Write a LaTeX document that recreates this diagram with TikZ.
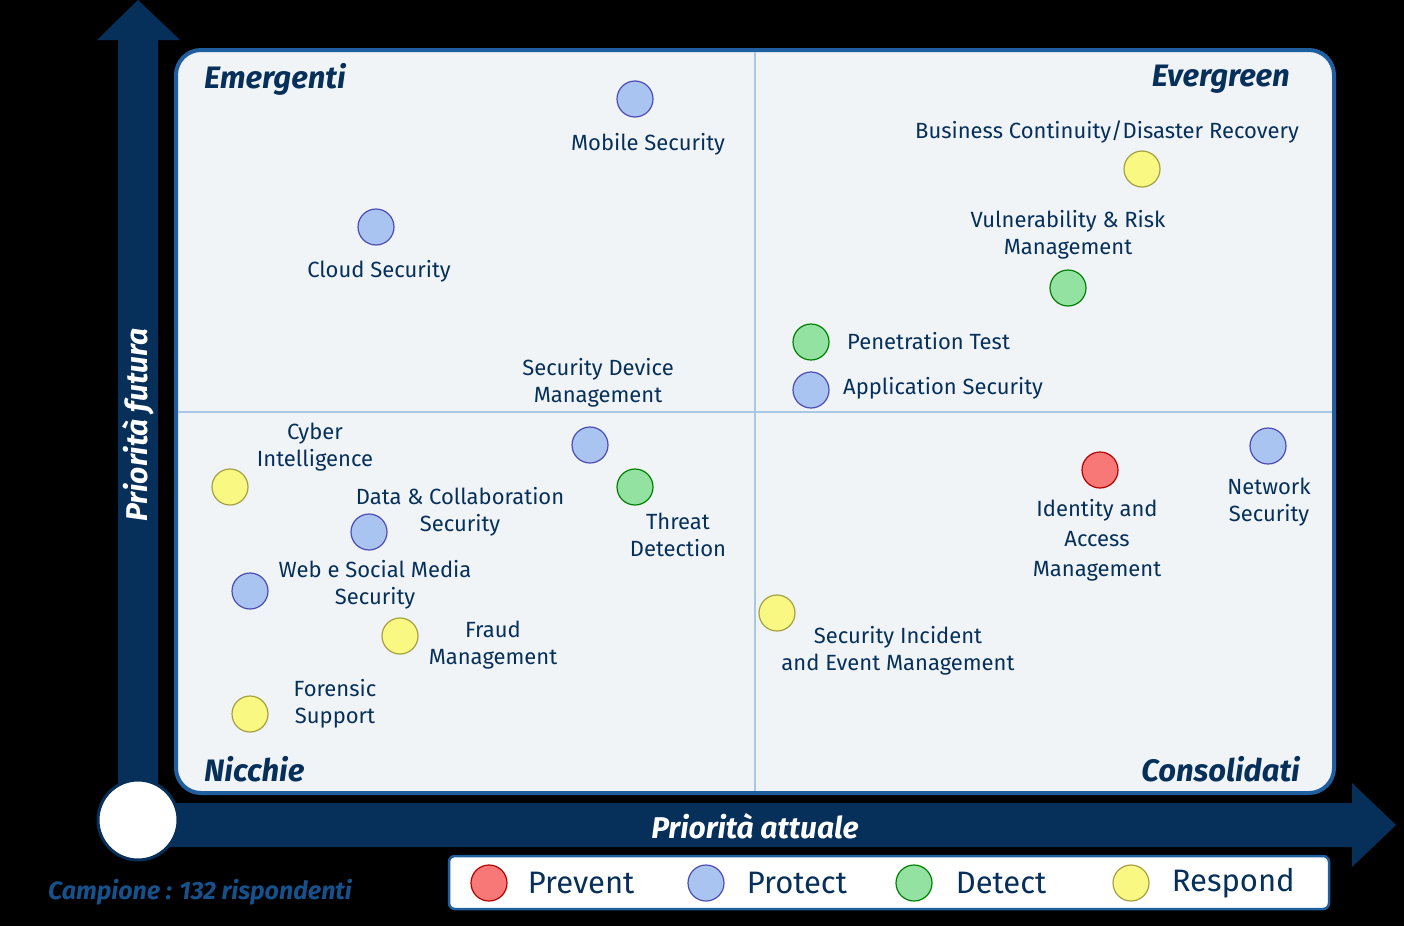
\documentclass[tikz,border=0pt]{standalone}
\usepackage{fontspec}
\setmainfont{Fira Sans}
\usetikzlibrary{positioning}
\definecolor{navy}{HTML}{06305A}
\definecolor{frameblue}{HTML}{1F5FA0}
\definecolor{panel}{HTML}{F0F4F6}
\definecolor{divider}{HTML}{A8C8E8}
\definecolor{prevent}{HTML}{F87878}
\definecolor{protect}{HTML}{AAC4F2}
\definecolor{detect}{HTML}{94E2A2}
\definecolor{respond}{HTML}{F8F882}
\tikzset{
  dot/.style={circle,minimum size=36pt,inner sep=0pt,line width=1.2pt},
  prev/.style={dot,fill=prevent,draw=red!70!black},
  prot/.style={dot,fill=protect,draw=blue!40!gray},
  dete/.style={dot,fill=detect,draw=green!50!black},
  resp/.style={dot,fill=respond,draw=yellow!60!black},
  lab/.style={text=navy,align=center,font=\fontsize{22}{27}\selectfont,inner sep=0pt},
  quad/.style={text=navy,font=\fontsize{31}{36}\selectfont\bfseries\itshape,inner sep=0pt},
  leg/.style={text=navy,font=\fontsize{31}{36}\selectfont,inner sep=0pt,anchor=west}
}
\begin{document}
\begin{tikzpicture}[x=1pt,y=-1pt]
    \fill[black] (0,0) rectangle (1404,926);
    \useasboundingbox (0,0) rectangle (1404,926);

    % axes
    \fill[navy] (118,800) -- (118,40) -- (97,40) -- (138,0) -- (180,40) -- (158,40) -- (158,800) -- cycle;
    \fill[navy] (138,803) -- (1352,803) -- (1352,783) -- (1396,825) -- (1352,867) -- (1352,847) -- (138,847) -- cycle;
    \node[circle,fill=white,draw=navy,line width=3pt,minimum size=80pt] (origin) at (138,820) {};
    \node[rotate=90,text=white,font=\fontsize{30}{36}\selectfont\bfseries\itshape] (yaxis) at (138,425) {Priorità futura};
    \node[text=white,font=\fontsize{30}{36}\selectfont\bfseries\itshape] (xaxis) at (755,826) {Priorità attuale};

    % panel
    \draw[fill=panel,draw=frameblue,line width=4pt,rounded corners=25pt] (176,50) rectangle (1334,793);
    \draw[divider,line width=2pt] (755,52) -- (755,791);
    \draw[divider,line width=2pt] (178,412) -- (1332,412);

    \node[quad,anchor=west] (emer) at (204,79) {Emergenti};
    \node[quad,anchor=east] (ever) at (1290,79) {Evergreen};
    \node[quad,anchor=west] (nicc) at (204,769) {Nicchie};
    \node[quad,anchor=east] (cons) at (1300,769) {Consolidati};

    % items
    \node[prot] (mob) at (635,99) {};
    \node[lab] (moblab) at (648,144) {Mobile Security};
    \node[prot] (cloud) at (376,227) {};
    \node[lab] (cloudlab) at (379,271) {Cloud Security};
    \node[prot] (sdm) at (590,445) {};
    \node[lab] (sdmlab) at (598,383) {Security Device\\Management};
    \node[resp] (bcdr) at (1142,169) {};
    \node[lab] (bcdrlab) at (1107,132) {Business Continuity/Disaster Recovery};
    \node[dete] (vrm) at (1068,288) {};
    \node[lab] (vrmlab) at (1068,235) {Vulnerability \& Risk\\Management};
    \node[dete] (pen) at (811,342) {};
    \node[lab,anchor=west] (penlab) at (847,341) {Penetration Test};
    \node[prot] (app) at (811,390) {};
    \node[lab,anchor=west] (applab) at (843,388) {Application Security};
    \node[resp] (cyb) at (230,487) {};
    \node[lab] (cyblab) at (315,447) {Cyber\\Intelligence};
    \node[prot] (data) at (369,532) {};
    \node[lab] (datalab) at (460,512) {Data \& Collaboration\\Security};
    \node[dete] (thr) at (635,487) {};
    \node[lab] (thrlab) at (678,535) {Threat\\Detection};
    \node[prot] (web) at (250,591) {};
    \node[lab] (weblab) at (375,585) {Web e Social Media\\Security};
    \node[resp] (fraud) at (400,636) {};
    \node[lab] (fraudlab) at (493,645) {Fraud\\Management};
    \node[resp] (fore) at (250,714) {};
    \node[lab] (forelab) at (335,704) {Forensic\\Support};
    \node[prev] (iam) at (1100,470) {};
    \node[lab,align=center,font=\fontsize{22}{30}\selectfont] (iamlab) at (1097,540) {Identity and\\Access\\Management};
    \node[prot] (net) at (1268,446) {};
    \node[lab] (netlab) at (1269,502) {Network\\Security};
    \node[resp] (siem) at (777,613) {};
    \node[lab] (siemlab) at (898,651) {Security Incident\\and Event Management};

    % legend
    \draw[fill=white,draw=frameblue,line width=2.5pt,rounded corners=6pt] (449,856) rectangle (1329,909);
    \node[prev] (lprev) at (489,883) {};
    \node[leg,right=20pt of lprev] {Prevent};
    \node[prot] (lprot) at (706,883) {};
    \node[leg,right=22pt of lprot] {Protect};
    \node[dete] (ldete) at (914,883) {};
    \node[leg,right=23pt of ldete] {Detect};
    \node[resp] (lresp) at (1131,883) {};
    \node[leg,right=22pt of lresp] {Respond};

    \node[text=frameblue!70!navy,font=\fontsize{25}{30}\selectfont\bfseries\itshape] (camp) at (200,892) {Campione : 132 rispondenti};
\end{tikzpicture}
\end{document}
